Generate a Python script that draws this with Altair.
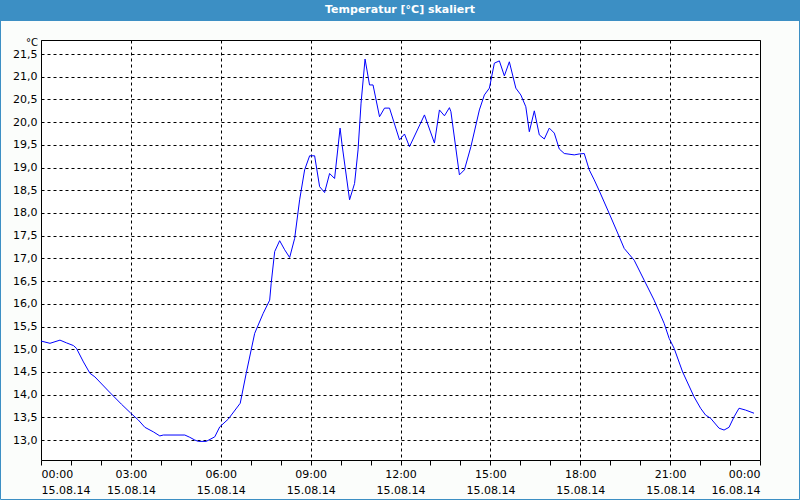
import altair as alt
import pandas as pd

times = ["00:00","00:18","00:38","00:51","01:05","01:11","01:25","01:38","01:48","02:15",
         "02:41","02:59","03:15","03:28","03:45","03:58","04:05","04:48","04:58","05:08",
         "05:15","05:31","05:48","05:58","06:15","06:39","06:51","07:08","07:25","07:38",
         "07:41","07:48","07:58","08:08","08:18","08:28","08:38","08:48","08:58","09:08",
         "09:18","09:28","09:38","09:48","09:59","10:03","10:18","10:28","10:35","10:41",
         "10:49","10:58","11:05","11:18","11:28","11:38","11:58","12:08","12:18","12:48",
         "13:08","13:18","13:28","13:38","13:41","13:58","14:08","14:21","14:38","14:48",
         "14:58","15:08","15:18","15:28","15:38","15:51","16:01","16:11","16:18","16:28",
         "16:38","16:48","16:58","17:08","17:18","17:28","17:48","17:58","18:08","18:18",
         "18:28","18:38","18:58","19:18","19:28","19:48","20:08","20:28","20:48","20:58",
         "21:08","21:25","21:48","22:01","22:11","22:21","22:38","22:48","22:58","23:08",
         "23:18","23:31","23:48"]
temps = [15.18,15.13,15.20,15.14,15.08,15.02,14.72,14.47,14.39,14.08,
         13.79,13.60,13.44,13.28,13.18,13.09,13.11,13.11,13.06,13.00,
         12.97,12.97,13.07,13.29,13.46,13.81,14.47,15.35,15.79,16.08,
         16.45,17.15,17.39,17.19,17.02,17.44,18.29,18.95,19.26,19.26,
         18.58,18.45,18.87,18.76,19.87,19.50,18.29,18.65,19.39,20.42,
         21.39,20.82,20.82,20.12,20.31,20.31,19.61,19.74,19.46,20.16,
         19.54,20.27,20.14,20.32,20.23,18.84,18.95,19.46,20.27,20.60,
         20.75,21.30,21.35,21.02,21.33,20.75,20.60,20.34,19.79,20.25,
         19.72,19.63,19.87,19.76,19.41,19.31,19.28,19.30,19.31,18.95,
         18.73,18.49,17.99,17.48,17.22,16.96,16.52,16.08,15.57,15.24,
         15.02,14.50,13.95,13.70,13.55,13.48,13.26,13.22,13.28,13.51,
         13.70,13.66,13.59]
y_ticks = [13.0,13.5,14.0,14.5,15.0,15.5,16.0,16.5,17.0,17.5,18.0,18.5,19.0,19.5,20.0,20.5,21.0,21.5]
x_hours = list(range(0, 25))
title_text = "Temperatur [°C] skaliert"
unit_text = "°C"

hours = [int(t[:2]) + int(t[3:]) / 60 for t in times]
df = pd.DataFrame({"h": hours, "temp": temps})

FONT = "DejaVu Sans"
W, H = 719, 420

x_label_expr = (
    "datum.value % 3 == 0 ? "
    "[(datum.value == 24 ? '00' : (datum.value < 10 ? '0' : '') + datum.value) + ':00', "
    "datum.value == 24 ? '16.08.14' : '15.08.14'] : ''"
)

line = alt.Chart(df).mark_line(color="#0000ff", strokeWidth=1, clip=True).encode(
    x=alt.X("h:Q",
            scale=alt.Scale(domain=[0, 24], nice=False, zero=False),
            axis=alt.Axis(values=x_hours, title=None, domain=False,
                          labelExpr=x_label_expr, labelOverlap=False,
                          labelFont=FONT, labelFontSize=11, labelColor="#000000",
                          labelLineHeight=16, labelPadding=3, labelBaseline="top",
                          tickSize=5, tickColor="#000000", tickWidth=1,
                          grid=True, gridColor="#000000", gridDash=[3, 3], gridWidth=1,
                          gridOpacity={"condition": {"test": "datum.value % 3 != 0", "value": 0}, "value": 1})),
    y=alt.Y("temp:Q",
            scale=alt.Scale(domain=[12.56, 21.81], nice=False, zero=False),
            axis=alt.Axis(values=y_ticks, title=None, domain=False, ticks=False,
                          labelExpr="replace(format(datum.value, '.1f'), '.', ',')",
                          labelFont=FONT, labelFontSize=11, labelColor="#000000",
                          labelPadding=4,
                          grid=True, gridColor="#000000", gridDash=[3, 3], gridWidth=1)),
)

one = pd.DataFrame({"k": [0]})

border = alt.Chart(one).mark_rect(fill="transparent", stroke="#3c8fc4", strokeWidth=1, clip=False).encode(
    x=alt.value(-40.5), x2=alt.value(758.5), y=alt.value(-39.5), y2=alt.value(459.5)
)
title_bar = alt.Chart(one).mark_rect(fill="#3c8fc4", clip=False).encode(
    x=alt.value(-41), x2=alt.value(759), y=alt.value(-40), y2=alt.value(-19)
)
title = alt.Chart(one).mark_text(text=title_text, color="#ffffff", font=FONT, fontSize=11,
                                 fontWeight="bold", align="center", baseline="middle", clip=False).encode(
    x=alt.value(359), y=alt.value(-30)
)
unit = alt.Chart(one).mark_text(text=unit_text, color="#000000", font=FONT, fontSize=10,
                                align="right", baseline="middle", clip=False).encode(
    x=alt.value(-3), y=alt.value(3)
)

chart = alt.layer(border, line, title_bar, title, unit).properties(
    width=W, height=H,
    autosize=alt.AutoSizeParams(type="none"),
    padding={"left": 41, "top": 40, "right": 40, "bottom": 40},
    background="#fbfdfb",
).configure_view(stroke="#000000", strokeWidth=1, fill="#ffffff")

chart.save("out.html", embed_options={"renderer": "svg", "actions": False})
